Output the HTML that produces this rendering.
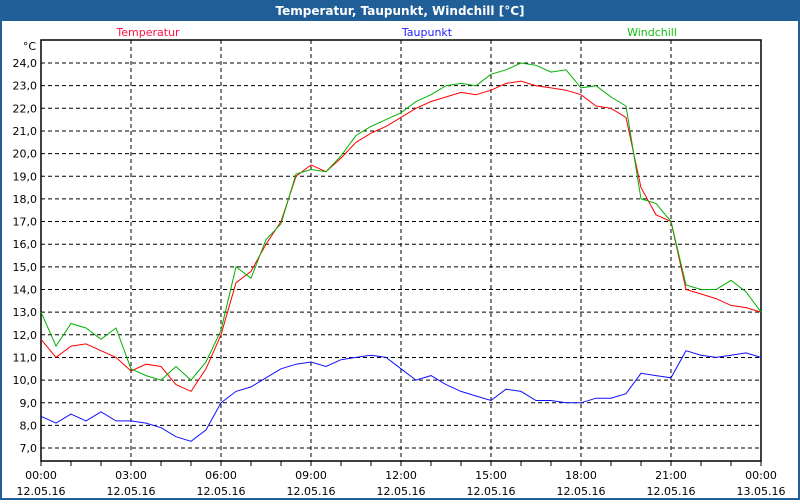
<!DOCTYPE html>
<html><head><meta charset="utf-8"><style>
body{margin:0;width:800px;height:500px;overflow:hidden;background:#fff;font-family:"DejaVu Sans","Liberation Sans",sans-serif}
</style></head><body>
<svg id="c" width="800" height="500" xmlns="http://www.w3.org/2000/svg">
<rect x="0" y="0" width="800" height="500" fill="#1f5e96"/>
<rect x="2" y="21" width="796" height="477" fill="#fff"/>
<text x="400" y="15" fill="#fff" font-size="12" font-weight="bold" text-anchor="middle">Temperatur, Taupunkt, Windchill [°C]</text>
<text x="148" y="36" fill="#ff1040" font-size="11" text-anchor="middle">Temperatur</text>
<text x="427" y="36" fill="#2020ff" font-size="11" text-anchor="middle">Taupunkt</text>
<text x="652" y="36" fill="#10c010" font-size="11" text-anchor="middle">Windchill</text>
<text x="36" y="50" font-size="11" text-anchor="end">°C</text>
<g id="grid"></g><g id="series"></g>
</svg>
<script>
const xLabels=["00:00","03:00","06:00","09:00","12:00","15:00","18:00","21:00","00:00"];
const dLabels=["12.05.16","12.05.16","12.05.16","12.05.16","12.05.16","12.05.16","12.05.16","12.05.16","13.05.16"];
const yTicks=[7,8,9,10,11,12,13,14,15,16,17,18,19,20,21,22,23,24];
const hours=[0,0.5,1,1.5,2,2.5,3,3.5,4,4.5,5,5.5,6,6.5,7,7.5,8,8.5,9,9.5,10,10.5,11,11.5,12,12.5,13,13.5,14,14.5,15,15.5,16,16.5,17,17.5,18,18.5,19,19.5,20,20.5,21,21.5,22,22.5,23,23.5,24];
const temperatur=[11.8,11.0,11.5,11.6,11.3,11.0,10.4,10.7,10.6,9.8,9.5,10.5,12.0,14.3,14.8,16.0,17.0,19.0,19.5,19.2,19.8,20.5,20.9,21.2,21.6,22.0,22.3,22.5,22.7,22.6,22.8,23.1,23.2,23.0,22.9,22.8,22.6,22.1,22.0,21.6,18.5,17.3,17.0,14.0,13.8,13.6,13.3,13.2,13.0];
const taupunkt=[8.4,8.1,8.5,8.2,8.6,8.2,8.2,8.1,7.9,7.5,7.3,7.8,9.0,9.5,9.7,10.1,10.5,10.7,10.8,10.6,10.9,11.0,11.1,11.0,10.5,10.0,10.2,9.8,9.5,9.3,9.1,9.6,9.5,9.1,9.1,9.0,9.0,9.2,9.2,9.4,10.3,10.2,10.1,11.3,11.1,11.0,11.1,11.2,11.0];
const windchill=[13.0,11.5,12.5,12.3,11.8,12.3,10.5,10.2,10.0,10.6,10.0,10.8,12.2,15.0,14.5,16.2,16.9,19.1,19.3,19.2,19.9,20.8,21.2,21.5,21.8,22.3,22.6,23.0,23.1,23.0,23.5,23.7,24.0,23.9,23.6,23.7,22.9,23.0,22.5,22.1,18.0,17.8,17.0,14.2,14.0,14.0,14.4,13.9,13.0];
const L=41,R=761,T=40,B=461;
const xs=h=>L+(R-L)*h/24;
const ys=v=>63+(24-v)*22.65;
const NS="http://www.w3.org/2000/svg";
function mk(tag,attrs,parent){const e=document.createElementNS(NS,tag);for(const k in attrs)e.setAttribute(k,attrs[k]);parent.appendChild(e);return e;}
const g=document.getElementById('grid');
yTicks.forEach(v=>{
  const y=ys(v);
  const ln=mk('line',{x1:L,x2:R,y1:y,y2:y,stroke:'#000','stroke-dasharray':'4,3'},g);
  
  
  const t=mk('text',{x:37,y:y+4,'font-size':11,'text-anchor':'end'},g);
  t.textContent=v.toFixed(1).replace('.',',');
  
  
});
xLabels.forEach((lab,i)=>{
  const x=xs(i*3);
  if(i>0&&i<8){const ln=mk('line',{x1:x,x2:x,y1:T,y2:B,stroke:'#000','stroke-dasharray':'4,3'},g);
  
  }
  const t=mk('text',{x:x,y:479,'font-size':11,'text-anchor':'middle'},g);
  t.textContent=lab;
  
  
  const d=mk('text',{x:x,y:495,'font-size':11,'text-anchor':'middle'},g);
  d.textContent=dLabels[i];
  
  
});
for(let h=0;h<=24;h++){const x=xs(h);const tk=mk('line',{x1:x,x2:x,y1:B,y2:B+5,stroke:'#000'},g);
  
  }
const ax=mk('rect',{x:L,y:T,width:R-L,height:B-T,fill:'none',stroke:'#000','stroke-width':1.5},g);


const s=document.getElementById('series');
[[taupunkt,'#1010ff','taupunkt-line'],[temperatur,'#ff0000','temperatur-line'],[windchill,'#00b000','windchill-line']].forEach(([d,c,n])=>{
  const p=mk('polyline',{points:d.map((v,i)=>xs(hours[i]).toFixed(1)+','+ys(v).toFixed(1)).join(' '),fill:'none',stroke:c,'stroke-width':1},s);
  
  
});
</script>
</body></html>
